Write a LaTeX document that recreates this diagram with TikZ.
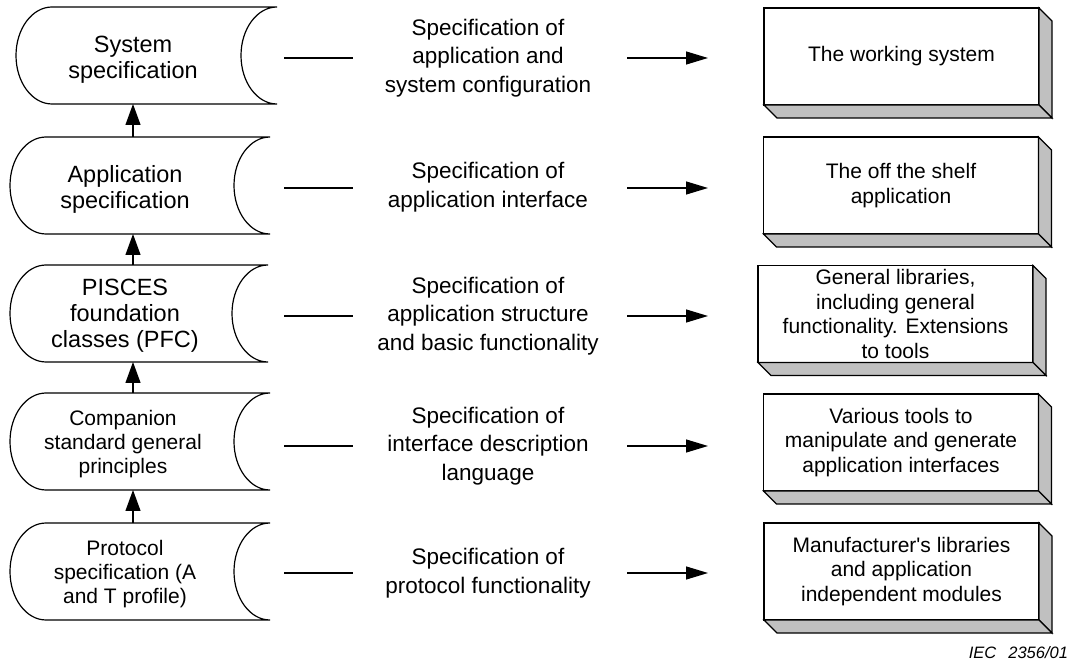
\documentclass[tikz,border=0pt]{standalone}
\usepackage{fontspec}
\setmainfont{Liberation Sans}
\usetikzlibrary{arrows.meta}

% left-hand "stored data" outline drawn around a frame node
\newcommand\storedoutline[1]{%
  \draw[outline] ([xshift=36pt]#1.north west) -- (#1.north east)
    arc[start angle=90, end angle=270, x radius=36pt, y radius=48.5pt]
    -- ([xshift=36pt]#1.south west)
    arc[start angle=270, end angle=90, x radius=36pt, y radius=48.5pt] -- cycle;}

% raised sides of a right-hand box
\newcommand\raisedsides[1]{%
  \draw[boxline, fill=sidegray] (#1.north east) -- ([shift={(13,-13)}]#1.north east)
    -- ([shift={(13,-13)}]#1.south east) -- (#1.south east) -- cycle;
  \draw[boxline, fill=sidegray] (#1.south west) -- ([shift={(13,-13)}]#1.south west)
    -- ([shift={(13,-13)}]#1.south east) -- (#1.south east) -- cycle;}

\definecolor{sidegray}{HTML}{C0C0C0}

\begin{document}
\begin{tikzpicture}[x=1pt, y=1pt,
  every node/.style={inner sep=0pt, outer sep=0pt},
  outline/.style={line width=1.2pt},
  boxline/.style={line width=1.1pt},
  frame/.style={minimum height=97pt},
  bigtxt/.style={align=center, font=\fontsize{23.5}{26}\selectfont},
  smalltxt/.style={align=center, font=\fontsize{21}{24}\selectfont},
  midtxt/.style={align=center, font=\fontsize{22.5}{28.5}\selectfont},
  boxtxt/.style={align=center, font=\fontsize{21}{24.5}\selectfont},
  front/.style={draw, boxline, fill=white, minimum width=275pt, minimum height=97pt},
  link/.style={line width=1.2pt},
  harrow/.style={line width=1.2pt, -{Triangle[length=22pt, width=13pt]}},
  varrow/.style={line width=1.2pt, -{Triangle[length=21pt, width=15pt]}}
]
\useasboundingbox (0,0) rectangle (1069,670);

% ---- left column: specification levels ----
\node[frame, minimum width=261pt] (L1) at (146.5,614.5) {};
\node[frame, minimum width=260pt] (L2) at (140,484.5) {};
\node[frame, minimum width=258pt] (L3) at (139,356.5) {};
\node[frame, minimum width=260pt] (L4) at (140,228.5) {};
\node[frame, minimum width=260pt] (L5) at (140,98.5) {};
\foreach \n in {L1,L2,L3,L4,L5} {\storedoutline{\n}}

\node[bigtxt] (L1t) at (133,610) {System\\specification};
\node[bigtxt] (L2t) at (125,481) {Application\\specification};
\node[bigtxt] (L3t) at (125,354) {PISCES\\foundation\\classes (PFC)};
\node[smalltxt] (L4t) at (123,226) {Companion\\standard general\\principles};
\node[smalltxt] (L5t) at (125,96) {Protocol\\specification (A\\and T profile)};

\coordinate (axis) at (133,0);
\draw[varrow] (L2.north -| axis) -- (L1.south -| axis);
\draw[varrow] (L3.north -| axis) -- (L2.south -| axis);
\draw[varrow] (L4.north -| axis) -- (L3.south -| axis);
\draw[varrow] (L5.north -| axis) -- (L4.south -| axis);

% ---- middle column: what each level specifies ----
\node[midtxt] (M1) at (488,612) {Specification of\\application and\\system configuration};
\node[midtxt] (M2) at (488,483) {Specification of\\application interface};
\node[midtxt] (M3) at (488,354) {Specification of\\application structure\\and basic functionality};
\node[midtxt] (M4) at (488,224) {Specification of\\interface description\\language};
\node[midtxt] (M5) at (488,97) {Specification of\\protocol functionality};

% ---- right column: resulting products ----
\node[front, boxtxt] (R1) at (901.5,613.5) {The working system};
\node[front, boxtxt] (R2) at (901,484.5) {The off the shelf\\application};
\node[front, boxtxt] (R3) at (895.5,356) {General libraries,\\including general\\functionality. Extensions\\to tools};
\node[front, boxtxt] (R4) at (901,227.5) {Various tools to\\manipulate and generate\\application interfaces};
\node[front, boxtxt] (R5) at (901.5,98.5) {Manufacturer\textquotesingle s libraries\\and application\\independent modules};
\foreach \n in {R1,R2,R3,R4,R5} {\raisedsides{\n}}

% ---- row connectors ----
\foreach \i/\y in {1/612, 2/482, 3/354, 4/224, 5/97} {
  \coordinate (a\i) at (284,\y);
  \coordinate (b\i) at (353,\y);
  \coordinate (c\i) at (627,\y);
  \coordinate (d\i) at (708,\y);
  \draw[link] (a\i) -- (b\i);
  \draw[harrow] (c\i) -- (d\i);
}

% figure reference
\node[anchor=base east, font=\fontsize{16.5}{19}\selectfont\itshape] (ref) at (1068,12) {IEC\hspace{12pt}2356/01};
\end{tikzpicture}
\end{document}
